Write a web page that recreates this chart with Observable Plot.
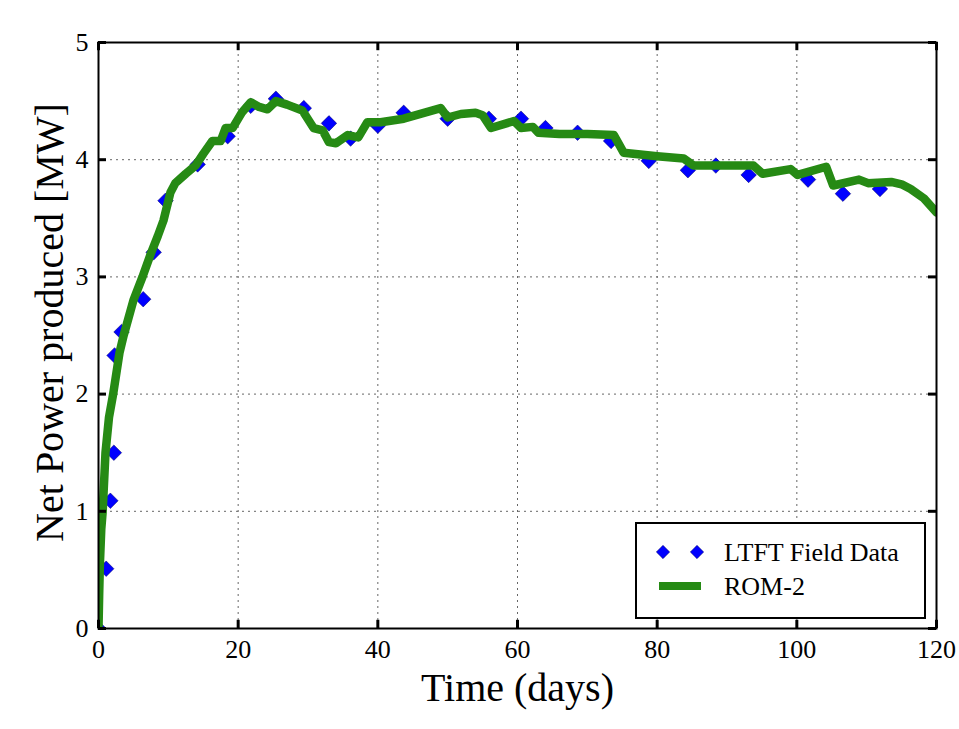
<!DOCTYPE html>
<html>
<head>
<meta charset="utf-8">
<script src="https://cdn.jsdelivr.net/npm/d3@7"></script>
<script src="https://cdn.jsdelivr.net/npm/@observablehq/plot@0.6"></script>
<style>
  html, body { margin: 0; padding: 0; background: #ffffff; }
  #chart { width: 959px; height: 729px; }
</style>
</head>
<body>
<div id="chart"></div>
<script>
// ---- Data ----
const seriesNames = ["LTFT Field Data", "ROM-2"];
const xLabel = "Time (days)";
const yLabel = "Net Power produced [MW]";
const xTicks = [0, 20, 40, 60, 80, 100, 120];
const yTicks = [0, 1, 2, 3, 4, 5];

// LTFT field data (diamonds)
const fieldDays  = [0, 1.1, 1.7, 2.2, 2.3, 3.3, 6.4, 7.9, 9.6, 14.2, 18.5, 21.8, 25.4, 29.4, 33.0, 36.1, 40.0, 43.7, 50.0, 55.9, 60.5, 64.0, 68.6, 73.4, 78.8, 84.4, 88.4, 93.1, 101.6, 106.6, 111.9];
const fieldPower = [0, 0.51, 1.09, 1.50, 2.33, 2.53, 2.81, 3.21, 3.65, 3.96, 4.20, 4.46, 4.52, 4.44, 4.31, 4.18, 4.29, 4.40, 4.35, 4.35, 4.35, 4.27, 4.23, 4.16, 3.99, 3.91, 3.95, 3.87, 3.83, 3.71, 3.75];

// ROM-2 model (green line)
const romDays  = [0, 0.1, 0.2, 0.4, 0.6, 1.0, 1.5, 2.1, 3.0, 3.6, 5.0, 6.3, 7.5, 8.5, 9.3, 10.3, 11.0, 12.5, 13.9, 15.0, 16.3, 17.5, 18.2, 19.2, 20.5, 21.8, 23.0, 24.2, 25.4, 27.0, 29.2, 30.8, 32.1, 33.0, 34.0, 35.7, 37.2, 38.5, 40.4, 43.7, 49.0, 50.0, 51.9, 54.0, 55.0, 56.2, 59.5, 60.5, 62.2, 63.0, 66.0, 70.0, 73.8, 75.2, 80.0, 83.8, 85.2, 93.8, 95.1, 99.1, 100.1, 104.2, 105.2, 108.9, 110.2, 113.5, 115.0, 116.3, 118.2, 120.0];
const romPower = [0, 0.30, 0.55, 0.85, 1.00, 1.50, 1.80, 2.00, 2.35, 2.50, 2.80, 3.00, 3.20, 3.35, 3.48, 3.72, 3.80, 3.88, 3.95, 4.05, 4.16, 4.16, 4.27, 4.27, 4.40, 4.49, 4.45, 4.43, 4.50, 4.47, 4.42, 4.27, 4.25, 4.15, 4.14, 4.21, 4.19, 4.32, 4.32, 4.35, 4.44, 4.36, 4.39, 4.40, 4.38, 4.27, 4.33, 4.27, 4.28, 4.23, 4.22, 4.22, 4.21, 4.06, 4.03, 4.01, 3.95, 3.95, 3.88, 3.92, 3.87, 3.94, 3.78, 3.83, 3.80, 3.81, 3.79, 3.75, 3.67, 3.55];

const field = fieldDays.map((d, i) => ({day: d, power: fieldPower[i]}));
const rom = romDays.map((d, i) => ({day: d, power: romPower[i]}));

const GREEN = "#268a14";
const BLUE = "#0000ff";
const FONT = "'Liberation Serif', 'DejaVu Serif', serif";

const xMax = 120, yMax = 5;
const xTickLen = 0.07;  // in y units
const yTickLen = 1.15;  // in x units
const inner = v => v > 0 && v < xMax;
const innerY = v => v > 0 && v < yMax;

const plot = Plot.plot({
  width: 959,
  height: 729,
  marginLeft: 98,
  marginRight: 23,
  marginTop: 42,
  marginBottom: 101,
  style: {fontFamily: FONT, background: "#ffffff", color: "#000"},
  x: {domain: [0, xMax]},
  y: {domain: [0, yMax]},
  marks: [
    Plot.gridX(xTicks.filter(inner), {stroke: "#666", strokeOpacity: 1, strokeWidth: 1, strokeDasharray: "2,4"}),
    Plot.gridY(yTicks.filter(innerY), {stroke: "#666", strokeOpacity: 1, strokeWidth: 1, strokeDasharray: "2,4"}),
    Plot.dot(field, {x: "day", y: "power", symbol: "diamond2", r: 7, fill: BLUE, stroke: "#000060", strokeWidth: 0.5, clip: true}),
    Plot.line(rom, {x: "day", y: "power", stroke: GREEN, strokeWidth: 8.5, strokeLinejoin: "round", clip: true}),
    // inward ticks on all four sides
    Plot.ruleX(xTicks, {x: d => d, y1: 0, y2: xTickLen, stroke: "#000", strokeWidth: 3}),
    Plot.ruleX(xTicks, {x: d => d, y1: yMax - xTickLen, y2: yMax, stroke: "#000", strokeWidth: 3}),
    Plot.ruleY(yTicks, {y: d => d, x1: 0, x2: yTickLen, stroke: "#000", strokeWidth: 3}),
    Plot.ruleY(yTicks, {y: d => d, x1: xMax - yTickLen, x2: xMax, stroke: "#000", strokeWidth: 3}),
    Plot.frame({stroke: "#000", strokeWidth: 2}),
    Plot.axisX({ticks: xTicks, tickSize: 0, tickPadding: 11, fontSize: 26, label: null, tickFormat: d => String(d)}),
    Plot.axisY({ticks: yTicks, tickSize: 0, tickPadding: 10, fontSize: 26, label: null, tickFormat: d => String(d)}),
    Plot.text([xLabel], {frameAnchor: "bottom", textAnchor: "middle", lineAnchor: "middle", dy: 60, fontSize: 40, fill: "#000"}),
    Plot.text([yLabel], {frameAnchor: "left", textAnchor: "middle", lineAnchor: "middle", dx: -48, dy: -13, rotate: -90, fontSize: 40, fill: "#000"})
  ]
});

// ---- Legend (lower right, inside the plot) ----
const svg = d3.select(plot);
const lg = svg.append("g").attr("font-family", FONT).attr("text-anchor", "start");
lg.append("rect").attr("x", 636).attr("y", 523).attr("width", 289).attr("height", 95)
  .attr("fill", "#fff").attr("stroke", "#000").attr("stroke-width", 2);
const diamond = d3.symbol(d3.symbolDiamond2, Math.PI * 36)();
[663, 697].forEach(cx => {
  lg.append("path").attr("d", diamond).attr("transform", `translate(${cx},552)`)
    .attr("fill", BLUE).attr("stroke", "#000060").attr("stroke-width", 0.5);
});
lg.append("text").attr("x", 724).attr("y", 561).attr("font-size", 26).attr("fill", "#000").attr("text-anchor", "start").text(seriesNames[0]);
lg.append("line").attr("x1", 659).attr("x2", 701).attr("y1", 586).attr("y2", 586)
  .attr("stroke", GREEN).attr("stroke-width", 8);
lg.append("text").attr("x", 724).attr("y", 595).attr("font-size", 26).attr("fill", "#000").attr("text-anchor", "start").text(seriesNames[1]);

document.getElementById("chart").appendChild(plot);
</script>
</body>
</html>
